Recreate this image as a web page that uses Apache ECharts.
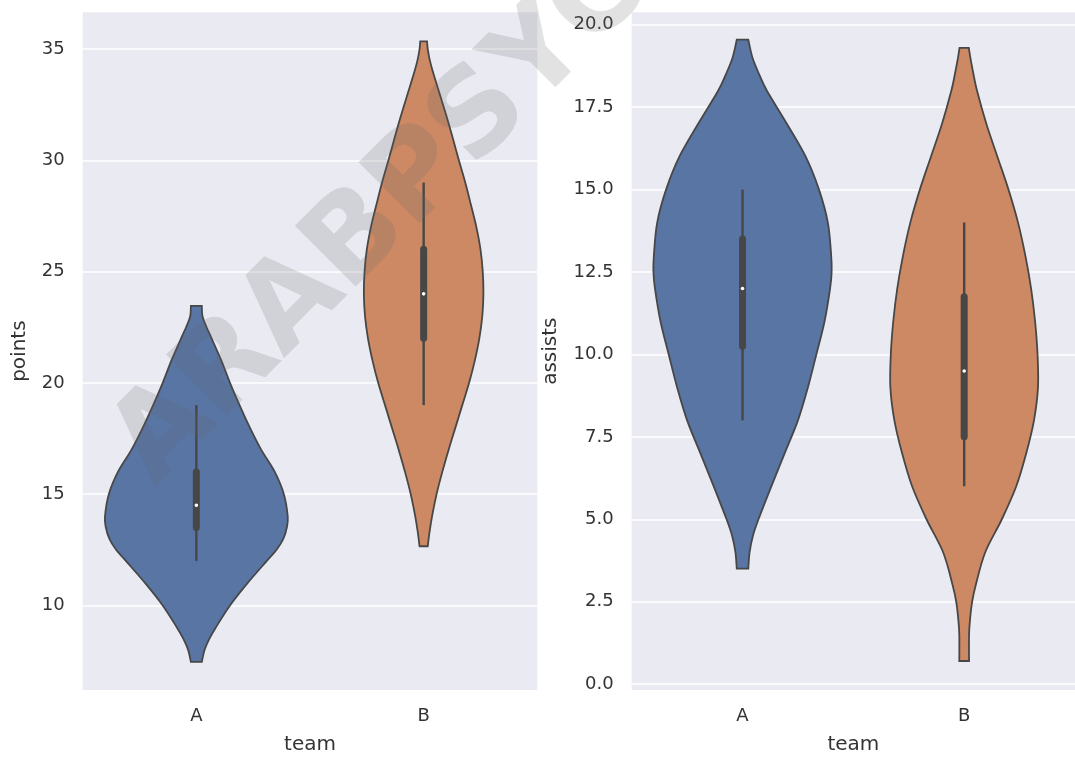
<!DOCTYPE html>
<html>
<head>
<meta charset="utf-8">
<script src="https://cdn.jsdelivr.net/npm/echarts@6/dist/echarts.min.js"></script>
<style>
html,body{margin:0;padding:0;background:#fff;}
#chart{width:1075px;height:760px;}
</style>
</head>
<body>
<div id="chart"></div>
<script>
// ---------- data ----------
const categories = ['A', 'B'];

// violin outlines: value (y) and half-width (in category units), top to bottom
const pointsA_val = [23.46, 23.0, 22.5, 22.0, 21.0, 20.0, 19.0, 18.0, 17.0, 16.0, 15.0, 14.0, 13.5, 13.0, 12.5, 12.0, 11.0, 10.0, 9.0, 8.5, 8.0, 7.46];
const pointsA_hw  = [0.024, 0.027, 0.045, 0.067, 0.11, 0.148, 0.19, 0.235, 0.285, 0.345, 0.385, 0.402, 0.398, 0.383, 0.353, 0.31, 0.225, 0.148, 0.085, 0.057, 0.036, 0.024];

const pointsB_val = [35.34, 35.0, 34.5, 34.0, 33.0, 32.0, 31.0, 30.0, 29.0, 28.0, 27.0, 26.0, 25.0, 24.0, 23.0, 22.0, 21.0, 20.0, 19.0, 18.0, 17.0, 16.0, 15.0, 14.0, 13.3, 12.66];
const pointsB_hw  = [0.015, 0.018, 0.027, 0.04, 0.07, 0.10, 0.128, 0.155, 0.183, 0.208, 0.232, 0.25, 0.26, 0.263, 0.258, 0.245, 0.225, 0.20, 0.17, 0.14, 0.11, 0.082, 0.057, 0.037, 0.026, 0.018];

const assistsA_val = [19.55, 19.0, 18.5, 18.0, 17.0, 16.0, 15.0, 14.0, 13.0, 12.5, 12.0, 11.0, 10.0, 9.0, 8.0, 7.0, 6.0, 5.0, 4.5, 4.0, 3.5];
const assistsA_hw  = [0.026, 0.045, 0.075, 0.11, 0.20, 0.285, 0.345, 0.385, 0.40, 0.402, 0.395, 0.37, 0.333, 0.295, 0.25, 0.19, 0.13, 0.072, 0.047, 0.032, 0.026];

const assistsB_val = [19.3, 19.0, 18.5, 18.0, 17.0, 16.0, 15.0, 14.0, 13.0, 12.0, 11.0, 10.0, 9.0, 8.0, 7.0, 6.0, 5.0, 4.0, 3.0, 2.5, 2.0, 1.5, 0.7];
const assistsB_hw  = [0.021, 0.028, 0.042, 0.058, 0.10, 0.15, 0.20, 0.243, 0.276, 0.302, 0.32, 0.331, 0.333, 0.315, 0.28, 0.235, 0.17, 0.095, 0.052, 0.036, 0.027, 0.022, 0.022];

// inner box: [whisker low, q1, median, q3, whisker high]
const pointsA_box  = [12, 13.5, 14.5, 16, 19];
const pointsB_box  = [19, 22, 24, 26, 29];
const assistsA_box = [8, 10.25, 12, 13.5, 15];
const assistsB_box = [6, 7.5, 9.5, 11.75, 14];

// tick labels
const pointsTicks  = [10, 15, 20, 25, 30, 35];
const assistsTicks = [0, 2.5, 5, 7.5, 10, 12.5, 15, 17.5, 20];

const violinColors = ['#5875A4', '#CC8963'];
const lineColor = '#474747';
const textColor = '#333333';

// ---------- rendering helpers ----------
// smooth open curve through pixel points (Catmull-Rom drawn as cubic Beziers)
function curveThrough(p) {
  let d = '';
  for (let i = 0; i < p.length - 1; i++) {
    const p0 = p[Math.max(i - 1, 0)], p1 = p[i], p2 = p[i + 1], p3 = p[Math.min(i + 2, p.length - 1)];
    const c1x = p1[0] + (p2[0] - p0[0]) / 6, c1y = p1[1] + (p2[1] - p0[1]) / 6;
    const c2x = p2[0] - (p3[0] - p1[0]) / 6, c2y = p2[1] - (p3[1] - p1[1]) / 6;
    d += ' C' + c1x + ',' + c1y + ' ' + c2x + ',' + c2y + ' ' + p2[0] + ',' + p2[1];
  }
  return d;
}

function makeRenderer(vals, hws, boxes) {
  return function (params, api) {
    const i = params.dataIndex;
    const band = api.size([1, 0])[0];
    const v = vals[i], w = hws[i], b = boxes[i];
    const right = [], left = [];
    for (let k = 0; k < v.length; k++) {
      const c = api.coord([i, v[k]]);
      right.push([c[0] + w[k] * band, c[1]]);
      left.push([c[0] - w[k] * band, c[1]]);
    }
    left.reverse();
    const pathData = 'M' + right[0][0] + ',' + right[0][1] + curveThrough(right) +
      ' L' + left[0][0] + ',' + left[0][1] + curveThrough(left) + ' Z';
    const lo = api.coord([i, b[0]]), q1 = api.coord([i, b[1]]), md = api.coord([i, b[2]]),
          q3 = api.coord([i, b[3]]), hi = api.coord([i, b[4]]);
    return {
      type: 'group',
      children: [
        { type: 'path', shape: { pathData: pathData },
          style: { fill: violinColors[i], stroke: lineColor, lineWidth: 1.8, lineJoin: 'miter' } },
        { type: 'line', shape: { x1: lo[0], y1: lo[1], x2: hi[0], y2: hi[1] },
          style: { stroke: lineColor, lineWidth: 2.4 } },
        { type: 'line', shape: { x1: q1[0], y1: q1[1], x2: q3[0], y2: q3[1] },
          style: { stroke: lineColor, lineWidth: 7, lineCap: 'round' } },
        { type: 'circle', shape: { cx: md[0], cy: md[1], r: 1.8 },
          style: { fill: '#ffffff' } }
      ]
    };
  };
}

const chart = echarts.init(document.getElementById('chart'), null, { renderer: 'canvas' });

function xAxisCfg(gi) {
  return {
    type: 'category', gridIndex: gi, data: categories,
    name: 'team', nameLocation: 'middle', nameGap: 45,
    nameTextStyle: { fontFamily: 'DejaVu Sans', fontSize: 20, color: textColor },
    axisLine: { show: false }, axisTick: { show: false }, splitLine: { show: false },
    axisLabel: { fontFamily: 'DejaVu Sans', fontSize: 18, color: textColor, margin: 17 }
  };
}
function yAxisCfg(gi, name, min, max, ticks, gap, fmt) {
  return {
    type: 'value', gridIndex: gi, min: min, max: max,
    name: name, nameLocation: 'middle', nameGap: gap,
    nameTextStyle: { fontFamily: 'DejaVu Sans', fontSize: 20, color: textColor },
    axisLine: { show: false },
    axisTick: { show: false, customValues: ticks },
    axisLabel: { fontFamily: 'DejaVu Sans', fontSize: 18, color: textColor, margin: 18,
                 customValues: ticks, formatter: fmt },
    splitLine: { show: true, lineStyle: { color: '#ffffff', width: 1.6 } }
  };
}

const option = {
  animation: false,
  backgroundColor: '#ffffff',
  grid: [
    { left: 82.7, top: 12.3, width: 454.6, height: 683.7, show: true,
      backgroundColor: '#EAEAF2', borderWidth: 0, containLabel: false },
    { left: 631.7, top: 12.3, width: 454.6, height: 683.7, show: true,
      backgroundColor: '#EAEAF2', borderWidth: 0, containLabel: false }
  ],
  xAxis: [xAxisCfg(0), xAxisCfg(1)],
  yAxis: [
    yAxisCfg(0, 'points', 6.2, 36.65, pointsTicks, 53, function (v) { return String(v); }),
    yAxisCfg(1, 'assists', -0.18, 20.38, assistsTicks, 71, function (v) { return v.toFixed(1); })
  ],
  series: [
    { type: 'custom', xAxisIndex: 0, yAxisIndex: 0, data: [[0], [1]],
      renderItem: makeRenderer([pointsA_val, pointsB_val], [pointsA_hw, pointsB_hw], [pointsA_box, pointsB_box]),
      clip: false },
    { type: 'custom', xAxisIndex: 1, yAxisIndex: 1, data: [[0], [1]],
      renderItem: makeRenderer([assistsA_val, assistsB_val], [assistsA_hw, assistsB_hw], [assistsA_box, assistsB_box]),
      clip: false }
  ],
  graphic: [
    { type: 'text', x: 133, y: 466, rotation: 45 * Math.PI / 180, z: 100, silent: true,
      style: { text: 'ARABPSYCHOLOGY', fontFamily: 'DejaVu Sans', fontWeight: 'bold', fontSize: 118,
               fill: 'rgba(100,100,105,0.19)', align: 'left', verticalAlign: 'middle' } }
  ]
};
chart.setOption(option);
</script>
</body>
</html>
